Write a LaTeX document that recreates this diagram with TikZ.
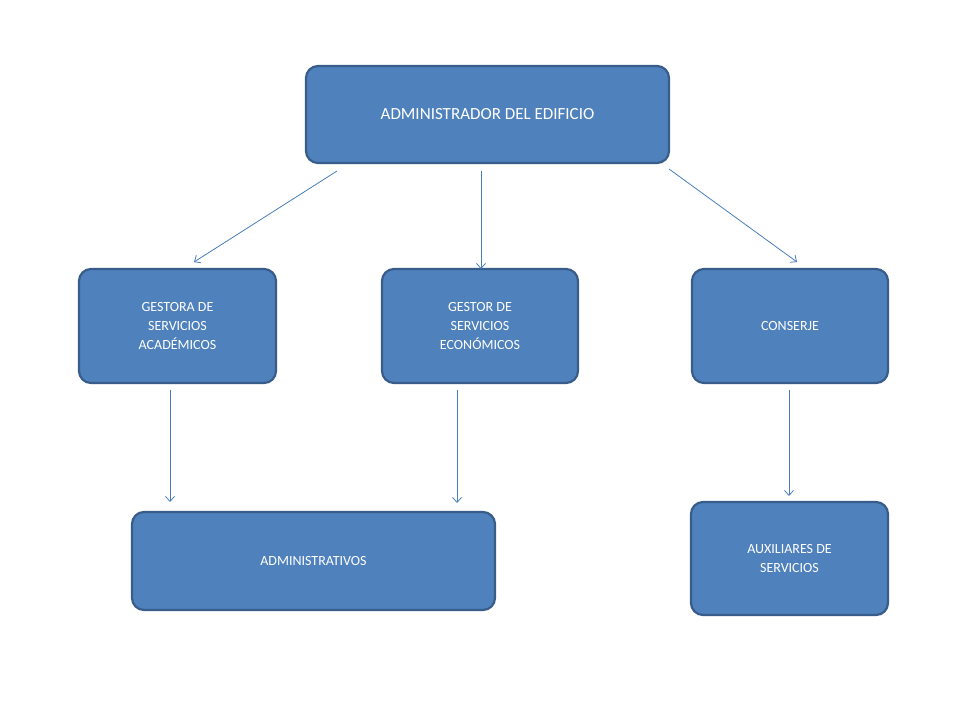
\documentclass[tikz,border=0pt]{standalone}
\usepackage{fontspec}
\usetikzlibrary{arrows.meta}
\setmainfont{Carlito}
\definecolor{boxfill}{HTML}{4F81BD}
\definecolor{boxline}{HTML}{385D8A}
\definecolor{arr}{HTML}{4A7EBB}
\begin{document}
\begin{tikzpicture}[x=1pt,y=-1pt,
  box/.style={draw=boxline,line width=2.2pt,fill=boxfill,rounded corners=12pt,text=white,align=center,font=\fontsize{14}{19}\selectfont,inner sep=0pt},
  conn/.style={draw=arr,line width=0.8pt,-{Straight Barb[length=5pt,width=9pt]}}]
\useasboundingbox (0,0) rectangle (960,720);
\fill[white] (0,0) rectangle (960,720);
\node[box,minimum width=363pt,minimum height=97pt,font=\fontsize{17}{21}\selectfont] (top) at (487.5,114.5) {ADMINISTRADOR DEL EDIFICIO};
\node[box,minimum width=197pt,minimum height=114pt] (ga) at (177.5,326) {GESTORA DE\\SERVICIOS\\ACADÉMICOS};
\node[box,minimum width=196pt,minimum height=114pt] (ge) at (480,326) {GESTOR DE\\SERVICIOS\\ECONÓMICOS};
\node[box,minimum width=196pt,minimum height=114pt] (co) at (790,326) {CONSERJE};
\node[box,minimum width=363pt,minimum height=98pt] (ad) at (313.5,561) {ADMINISTRATIVOS};
\node[box,minimum width=197pt,minimum height=113pt] (au) at (789.5,558.5) {AUXILIARES DE\\SERVICIOS};
\coordinate (a1s) at (337,171); \coordinate (a1e) at (194,262);
\coordinate (a2s) at (481,171); \coordinate (a2e) at (481,269);
\coordinate (a3s) at (669,169); \coordinate (a3e) at (797,262);
\coordinate (a4s) at (170,390); \coordinate (a4e) at (170,502);
\coordinate (a5s) at (457,390); \coordinate (a5e) at (457,503);
\coordinate (a6s) at (789,390); \coordinate (a6e) at (789,496);
\foreach \i in {1,...,6} \draw[conn] (a\i s) -- (a\i e);
\end{tikzpicture}
\end{document}
